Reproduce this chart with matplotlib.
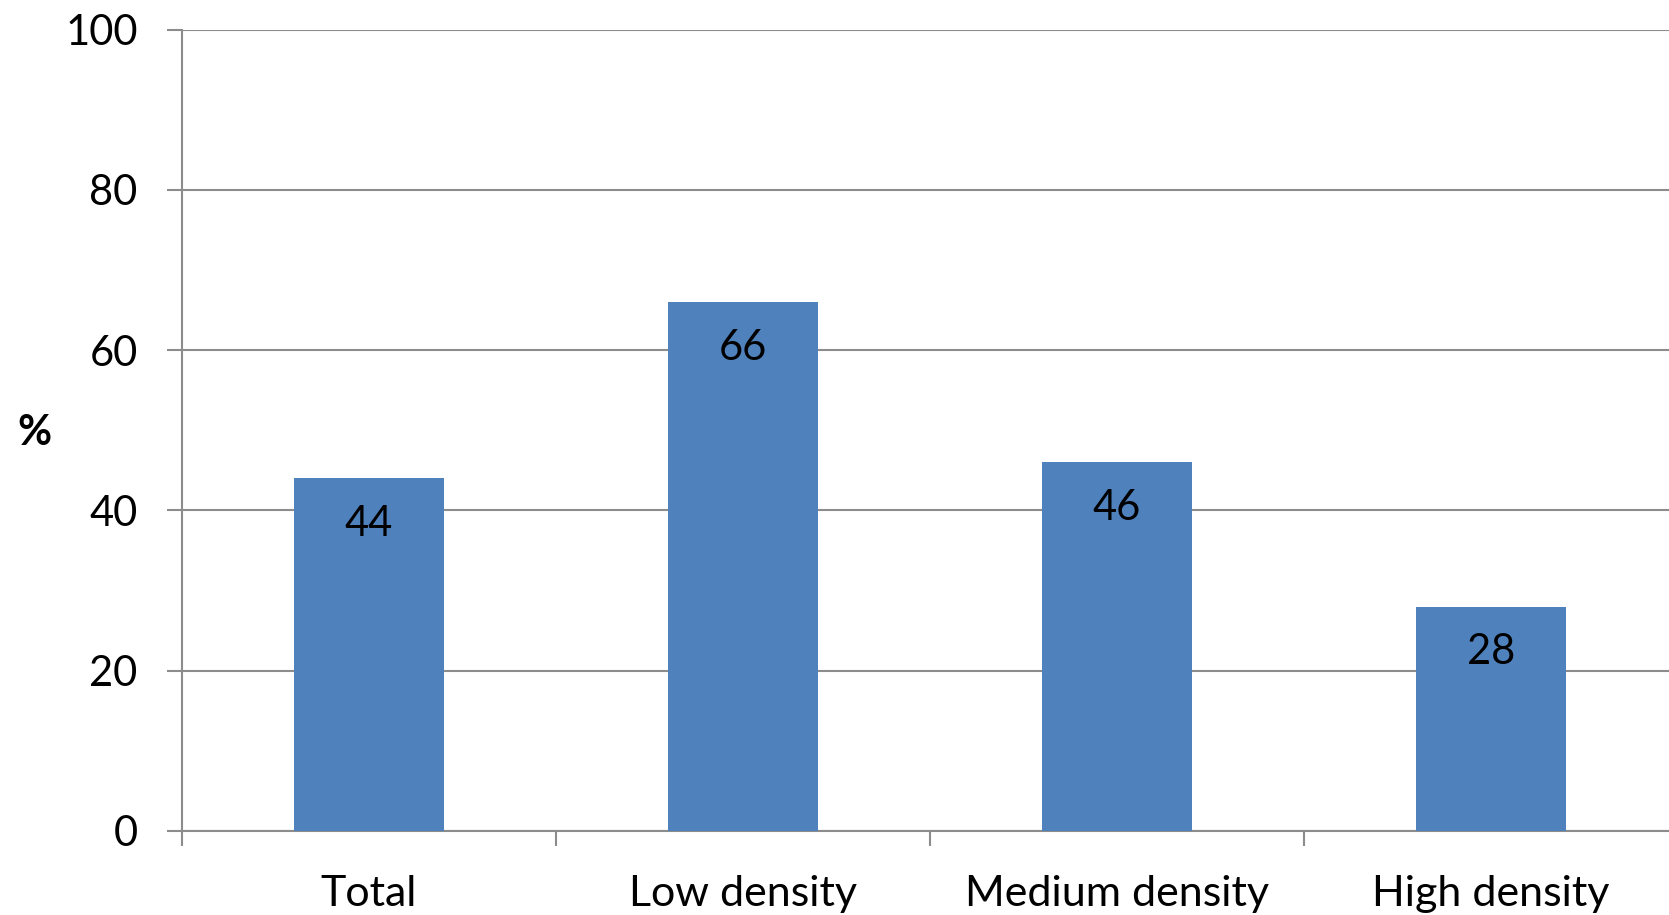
import matplotlib.pyplot as plt
import numpy as np

plt.rcParams['font.family'] = ['Lato', 'DejaVu Sans']

# data
categories = ['Total', 'Low density', 'Medium density', 'High density']
values = [44, 66, 46, 28]

grid_col = '#8c8c8c'
bar_col = '#4f81bd'

fig = plt.figure(figsize=(16.69, 9.15), dpi=100)
# axes runs past the right edge like in the original (cropped)
ax = fig.add_axes([182 / 1669, 84 / 915, 1496 / 1669, 801.5 / 915])

x = np.arange(len(categories))
bars = ax.bar(x, values, width=0.4, color=bar_col, zorder=3)

for xi, v in zip(x, values):
    ax.annotate(str(v), (xi, v), xytext=(0, -33), textcoords='offset points',
                ha='center', va='center', fontsize=30, zorder=4)

ax.set_xlim(-0.5, len(categories) - 0.5)
ax.set_ylim(0, 100)
ax.set_yticks(range(0, 101, 20))
ax.yaxis.grid(True, color=grid_col, linewidth=1.5, zorder=0)

# boundaries as major ticks, names as minor ticks
ax.set_xticks(np.arange(-0.5, len(categories), 1.0))
ax.set_xticklabels([])
ax.set_xticks(x, minor=True)
ax.set_xticklabels(categories, minor=True)
ax.tick_params(axis='x', which='major', length=11, width=1.5, color=grid_col, direction='out')
ax.tick_params(axis='x', which='minor', length=0, pad=32, labelsize=31)
ax.tick_params(axis='y', length=11, width=1.5, color=grid_col, pad=21, labelsize=30)

for s in ['top', 'right']:
    ax.spines[s].set_visible(False)
for s in ['left', 'bottom']:
    ax.spines[s].set_color(grid_col)
    ax.spines[s].set_linewidth(1.5)

fig.text(34 / 1669, 1 - 433 / 915, '%', fontsize=30, fontweight='bold',
         ha='center', va='center')

fig.savefig('out.png', dpi=100)
